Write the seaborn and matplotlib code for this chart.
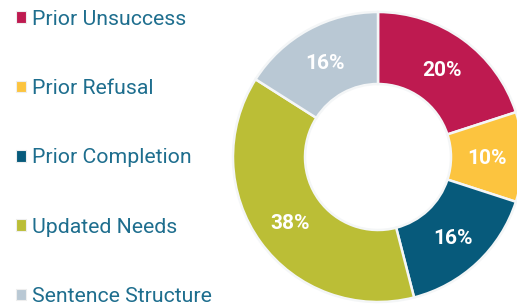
import matplotlib
matplotlib.use("Agg")
import matplotlib.pyplot as plt
import seaborn as sns
import numpy as np

# data
labels = ["Prior Unsuccess", "Prior Refusal", "Prior Completion", "Updated Needs", "Sentence Structure"]
shares = [20, 10, 16, 38, 16]
colors = ["#BE1A50", "#FCC43F", "#075A7B", "#BBBE36", "#B9C8D4"]

sns.set_theme(style="white")
plt.rcParams['font.family'] = ['Roboto', 'DejaVu Sans']

fig = plt.figure(figsize=(5.17, 3.07), dpi=100)
ax = fig.add_axes([0, 0, 1, 1])

cx, cy, R = 378, 150, 145
wedges, texts = ax.pie(shares, colors=colors, startangle=90, counterclock=False,
                       center=(cx, cy), radius=R,
                       wedgeprops=dict(width=72, edgecolor='#F4F6F7', linewidth=1.8),
                       frame=True)
ax.set_xlim(0, 517)
ax.set_ylim(0, 307)
ax.set_aspect('equal')
ax.axis('off')

# percent labels in the middle of the ring
for w, s in zip(wedges, shares):
    ang = np.deg2rad((w.theta1 + w.theta2) / 2)
    x = cx + 109 * np.cos(ang)
    y = cy + 109 * np.sin(ang) - 2
    ax.text(x, y, f"{s}%", ha='center', va='center', color='white',
            fontsize=15, fontweight='bold')

leg = fig.legend(wedges, labels, loc='upper left', bbox_to_anchor=(0.012, 1.0),
                 frameon=False, fontsize=15.3, handlelength=0.47, handleheight=0.47,
                 handletextpad=0.3, labelspacing=2.37, borderaxespad=0.05)
for t in leg.get_texts():
    t.set_color('#1E6E8E')
for h in leg.legend_handles:
    h.set_edgecolor('#EEEEEE')
    h.set_linewidth(0.8)

fig.savefig("out.png", dpi=100)
